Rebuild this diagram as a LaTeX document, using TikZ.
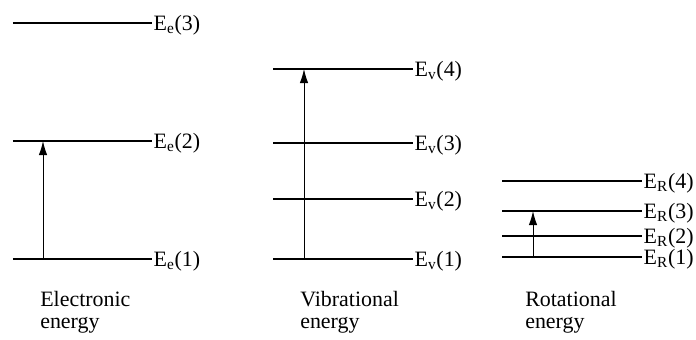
\documentclass[tikz,border=0pt]{standalone}
\usepackage{fontspec}
\setmainfont{Liberation Serif}
\usetikzlibrary{arrows.meta}

\begin{document}
\begin{tikzpicture}[
    lvl/.style={line width=0.9pt},
    lab/.style={anchor=base west, inner sep=0pt, xshift=1pt, yshift=-5.2pt,
        font=\fontsize{15.6}{18}\selectfont},
    jump/.style={line width=0.7pt, -{Latex[length=10pt, width=6pt]}},
    captxt/.style={anchor=north west, inner sep=0pt, align=left,
        font=\fontsize{15.6}{15.6}\selectfont},
]
\useasboundingbox (0, 0) rectangle (17.4, 8.475);

% Electronic levels
\foreach \n/\y in {1/2.0, 2/4.95, 3/7.9} {
    \coordinate (eL\n) at (0.325, \y);
    \coordinate (eR\n) at (3.8, \y);
    \draw[lvl] (eL\n) -- (eR\n);
    \node[lab] (ee\n) at (eR\n) {E\textsubscript{e}(\n)};
}

% Vibrational levels
\foreach \n/\y in {1/2.0, 2/3.5, 3/4.9, 4/6.75} {
    \coordinate (vL\n) at (6.825, \y);
    \coordinate (vR\n) at (10.325, \y);
    \draw[lvl] (vL\n) -- (vR\n);
    \node[lab] (ev\n) at (vR\n) {E\textsubscript{v}(\n)};
}

% Rotational levels
\foreach \n/\y in {1/2.05, 2/2.575, 3/3.2, 4/3.95} {
    \coordinate (rL\n) at (12.55, \y);
    \coordinate (rR\n) at (16.05, \y);
    \draw[lvl] (rL\n) -- (rR\n);
    \node[lab] (er\n) at (rR\n) {E\textsubscript{R}(\n)};
}

% Transitions
\coordinate (eA) at (1.075, 2.0);
\coordinate (eB) at (1.075, 4.95);
\coordinate (vA) at (7.6, 2.0);
\coordinate (vB) at (7.6, 6.75);
\coordinate (rA) at (13.325, 2.05);
\coordinate (rB) at (13.325, 3.2);
\draw[jump] (eA) -- (eB);
\draw[jump] (vA) -- (vB);
\draw[jump] (rA) -- (rB);

% Captions
\node[captxt] (ecap) at (1.0, 1.2) {Electronic\\energy};
\node[captxt] (vcap) at (7.5, 1.2) {Vibrational\\energy};
\node[captxt] (rcap) at (13.125, 1.2) {Rotational\\energy};

\end{tikzpicture}
\end{document}
